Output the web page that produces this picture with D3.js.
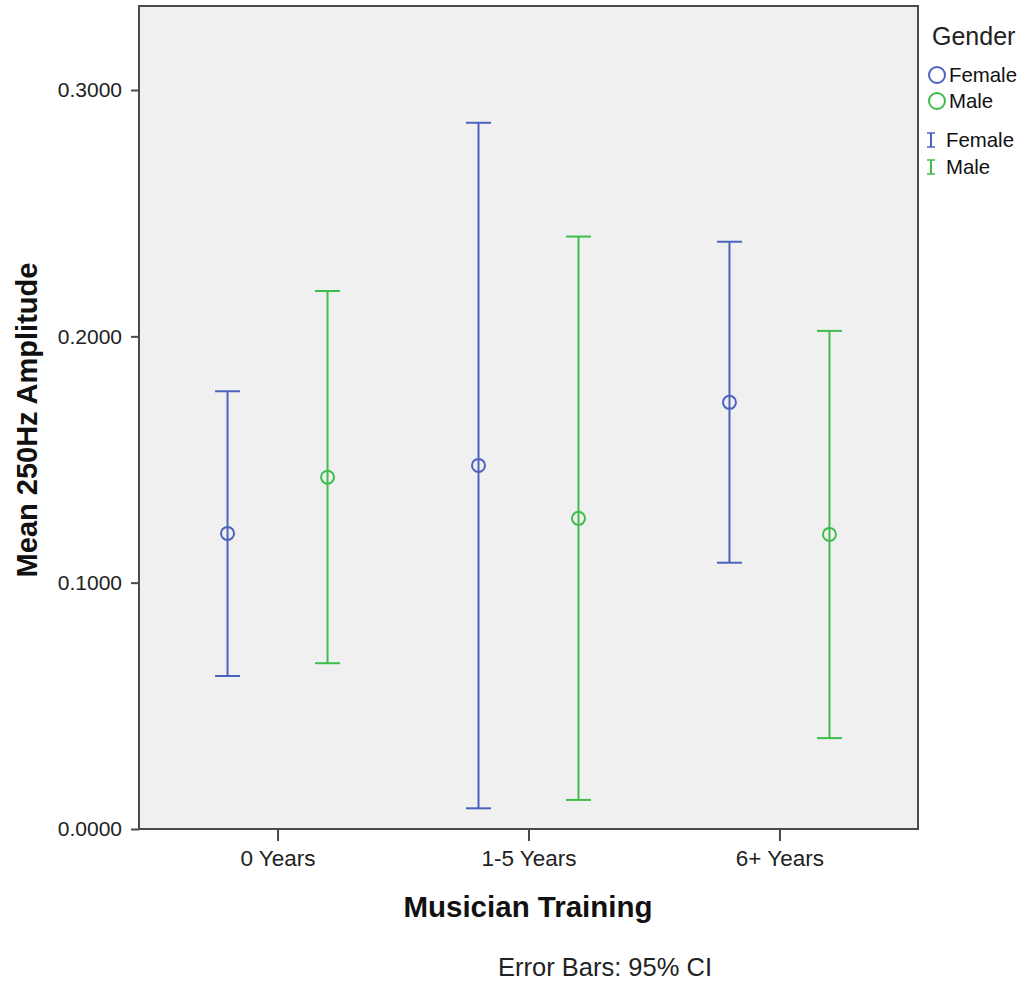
<!DOCTYPE html>
<html><head><meta charset="utf-8">
<script src="https://cdn.jsdelivr.net/npm/d3@7"></script>
<style>body{margin:0;background:#fff;} text{font-family:"Liberation Sans",Arial,sans-serif;}</style>
</head><body>
<svg id="chart" width="1023" height="984"></svg>
<script>
const categories = ["0 Years", "1-5 Years", "6+ Years"];
const genders = ["Female", "Male"];
const femaleMean  = [0.1200, 0.1476, 0.1732];
const femaleLower = [0.0621, 0.0084, 0.1081];
const femaleUpper = [0.1777, 0.2867, 0.2384];
const maleMean    = [0.1428, 0.1261, 0.1196];
const maleLower   = [0.0673, 0.0118, 0.0369];
const maleUpper   = [0.2184, 0.2405, 0.2022];
const yTicks = [0.0, 0.1, 0.2, 0.3];
const colors = {Female: "#4c62bf", Male: "#3fbd4c"};

const rows = [];
categories.forEach((c, i) => {
  rows.push({cat: c, g: "Female", mean: femaleMean[i], lo: femaleLower[i], hi: femaleUpper[i]});
  rows.push({cat: c, g: "Male", mean: maleMean[i], lo: maleLower[i], hi: maleUpper[i]});
});

const svg = d3.select("#chart");
const L = 139, R = 918, T = 6, B = 829;
const x = d3.scalePoint().domain(categories).range([L, R]).padding(0.552);
const xg = d3.scalePoint().domain(genders).range([-50, 50]);
const y = d3.scaleLinear().domain([0, 0.3341]).range([B, T]);

svg.append("rect").attr("x", L).attr("y", T).attr("width", R - L).attr("height", B - T)
  .attr("fill", "#f0f0f0").attr("stroke", "#4a4a4a").attr("stroke-width", 2);

const ya = svg.append("g").attr("transform", `translate(${L},0)`)
  .call(d3.axisLeft(y).tickValues(yTicks).tickSize(8).tickPadding(9).tickFormat(d3.format(".4f")));
ya.select(".domain").remove();
ya.selectAll("line").attr("stroke", "#4a4a4a").attr("stroke-width", 2);
ya.selectAll("text").attr("font-size", 21).attr("fill", "#222").style("font-family", "Liberation Sans, Arial, sans-serif");

const xa = svg.append("g").attr("transform", `translate(0,${B})`)
  .call(d3.axisBottom(x).tickSize(12).tickPadding(9));
xa.select(".domain").remove();
xa.selectAll("line").attr("stroke", "#4a4a4a").attr("stroke-width", 2);
xa.selectAll("text").attr("font-size", 22.5).attr("fill", "#222").style("font-family", "Liberation Sans, Arial, sans-serif");

const cap = 12.5;
const g = svg.append("g");
rows.forEach(d => {
  const cx = x(d.cat) + xg(d.g);
  const col = colors[d.g];
  g.append("line").attr("x1", cx).attr("x2", cx).attr("y1", y(d.lo)).attr("y2", y(d.hi))
    .attr("stroke", col).attr("stroke-width", 2);
  g.append("line").attr("x1", cx - cap).attr("x2", cx + cap).attr("y1", y(d.hi)).attr("y2", y(d.hi))
    .attr("stroke", col).attr("stroke-width", 2);
  g.append("line").attr("x1", cx - cap).attr("x2", cx + cap).attr("y1", y(d.lo)).attr("y2", y(d.lo))
    .attr("stroke", col).attr("stroke-width", 2);
  g.append("circle").attr("cx", cx).attr("cy", y(d.mean)).attr("r", 6.5)
    .attr("fill", "none").attr("stroke", col).attr("stroke-width", 2);
});

svg.append("text").attr("x", 528).attr("y", 917).attr("text-anchor", "middle")
  .attr("font-size", 29.5).attr("font-weight", "bold").attr("fill", "#111").text("Musician Training");
svg.append("text").attr("transform", `translate(37,420) rotate(-90)`).attr("text-anchor", "middle")
  .attr("font-size", 29).attr("font-weight", "bold").attr("fill", "#111").text("Mean 250Hz Amplitude");
svg.append("text").attr("x", 605).attr("y", 976).attr("text-anchor", "middle")
  .attr("font-size", 25.5).attr("fill", "#222").text("Error Bars: 95% CI");

// legend
const lg = svg.append("g");
lg.append("text").attr("x", 932).attr("y", 45).attr("font-size", 25).attr("fill", "#222").text("Gender");
genders.forEach((gd, i) => {
  const yy = 75 + i * 26;
  lg.append("circle").attr("cx", 937).attr("cy", yy).attr("r", 8).attr("fill", "none")
    .attr("stroke", colors[gd]).attr("stroke-width", 2);
  lg.append("text").attr("x", 949).attr("y", yy + 7).attr("font-size", 20.4).attr("fill", "#111").text(gd);
});
genders.forEach((gd, i) => {
  const yy = 140 + i * 27;
  lg.append("line").attr("x1", 931).attr("x2", 931).attr("y1", yy - 7).attr("y2", yy + 7)
    .attr("stroke", colors[gd]).attr("stroke-width", 2);
  lg.append("line").attr("x1", 927).attr("x2", 935).attr("y1", yy - 7).attr("y2", yy - 7)
    .attr("stroke", colors[gd]).attr("stroke-width", 1.5);
  lg.append("line").attr("x1", 927).attr("x2", 935).attr("y1", yy + 7).attr("y2", yy + 7)
    .attr("stroke", colors[gd]).attr("stroke-width", 1.5);
  lg.append("text").attr("x", 946).attr("y", yy + 7).attr("font-size", 20.4).attr("fill", "#111").text(gd);
});
</script>
</body></html>
